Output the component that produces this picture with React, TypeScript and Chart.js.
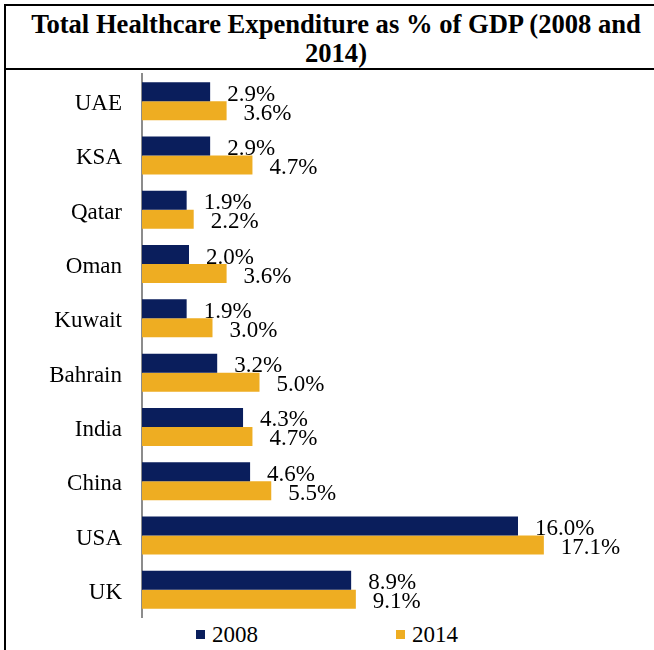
import React, { useEffect, useRef } from "react";
import { Chart, registerables } from "chart.js";

Chart.register(...registerables);

const categories = ["UAE", "KSA", "Qatar", "Oman", "Kuwait", "Bahrain", "India", "China", "USA", "UK"];
const values2008 = [2.9, 2.9, 1.9, 2.0, 1.9, 3.2, 4.3, 4.6, 16.0, 8.9];
const values2014 = [3.6, 4.7, 2.2, 3.6, 3.0, 5.0, 4.7, 5.5, 17.1, 9.1];
const seriesNames = ["2008", "2014"];
const seriesColors = ["#0A1E5C", "#EEAD22"];
const titleText = "Total Healthcare Expenditure as % of GDP (2008 and 2014)";

const FONT = "'Liberation Serif', 'Times New Roman', serif";

const valueLabels = {
  id: "valueLabels",
  afterDatasetsDraw(chart: any) {
    const ctx = chart.ctx;
    ctx.save();
    ctx.font = `23px ${FONT}`;
    ctx.fillStyle = "#000";
    ctx.textAlign = "left";
    ctx.textBaseline = "middle";
    chart.data.datasets.forEach((ds: any, i: number) => {
      const meta = chart.getDatasetMeta(i);
      meta.data.forEach((el: any, j: number) => {
        const v = ds.data[j] as number;
        ctx.fillText(v.toFixed(1) + "%", el.x + 17, el.y + 3);
      });
    });
    ctx.restore();
  },
};

export default function App() {
  const ref = useRef<HTMLCanvasElement | null>(null);

  useEffect(() => {
    if (!ref.current) return;
    const chart = new Chart(ref.current, {
      type: "bar",
      data: {
        labels: categories,
        datasets: [
          {
            label: seriesNames[0],
            data: values2008,
            backgroundColor: seriesColors[0],
            categoryPercentage: 0.7,
            barPercentage: 1,
          },
          {
            label: seriesNames[1],
            data: values2014,
            backgroundColor: seriesColors[1],
            categoryPercentage: 0.7,
            barPercentage: 1,
          },
        ],
      },
      options: {
        indexAxis: "y",
        animation: false,
        responsive: false,
        maintainAspectRatio: false,
        layout: { padding: { top: 4, bottom: 3, left: 0, right: 42 } },
        plugins: {
          legend: { display: false },
          title: { display: false },
          tooltip: { enabled: false },
        },
        scales: {
          x: {
            display: false,
            min: 0,
            max: 20,
          },
          y: {
            afterFit(scale: any) {
              scale.width = 142;
              scale.paddingTop = 0;
              scale.paddingBottom = 0;
            },
            grid: { display: false, drawTicks: false },
            border: { display: true, color: "#8c8c8c", width: 2 },
            ticks: {
              color: "#000",
              padding: 20,
              labelOffset: 3,
              font: { family: FONT, size: 23 },
            },
          },
        },
      },
      plugins: [valueLabels],
    } as any);
    return () => chart.destroy();
  }, []);

  const legendItem = (i: number, sqLeft: number, textLeft: number) => (
    <React.Fragment key={i}>
      <div
        style={{
          position: "absolute",
          left: sqLeft,
          top: 630,
          width: 9,
          height: 9,
          background: seriesColors[i],
        }}
      />
      <div
        style={{
          position: "absolute",
          left: textLeft,
          top: 622,
          lineHeight: "26px",
          fontSize: 23,
          fontFamily: FONT,
          color: "#000",
        }}
      >
        {seriesNames[i]}
      </div>
    </React.Fragment>
  );

  return (
    <div
      style={{
        position: "fixed",
        left: 0,
        top: 0,
        width: 654,
        height: 650,
        background: "#fff",
        overflow: "hidden",
      }}
    >
      <div
        style={{
          position: "absolute",
          left: 4,
          top: 4,
          width: 620,
          height: 58,
          border: "2px solid #000",
          display: "flex",
          alignItems: "center",
          justifyContent: "center",
          textAlign: "center",
          fontFamily: FONT,
          fontWeight: "bold",
          fontSize: 26.6,
          lineHeight: "29px",
          color: "#000",
          boxSizing: "content-box",
          paddingLeft: 20,
          paddingRight: 40,
          paddingTop: 4,
        }}
      >
        {titleText}
      </div>
      <div
        style={{
          position: "absolute",
          left: 4,
          top: 4,
          width: 2,
          height: 646,
          background: "#000",
        }}
      />
      <canvas
        ref={ref}
        width={654}
        height={550}
        style={{ position: "absolute", left: 0, top: 70, width: 654, height: 550 }}
      />
      {legendItem(0, 196, 212)}
      {legendItem(1, 396, 412)}
    </div>
  );
}
